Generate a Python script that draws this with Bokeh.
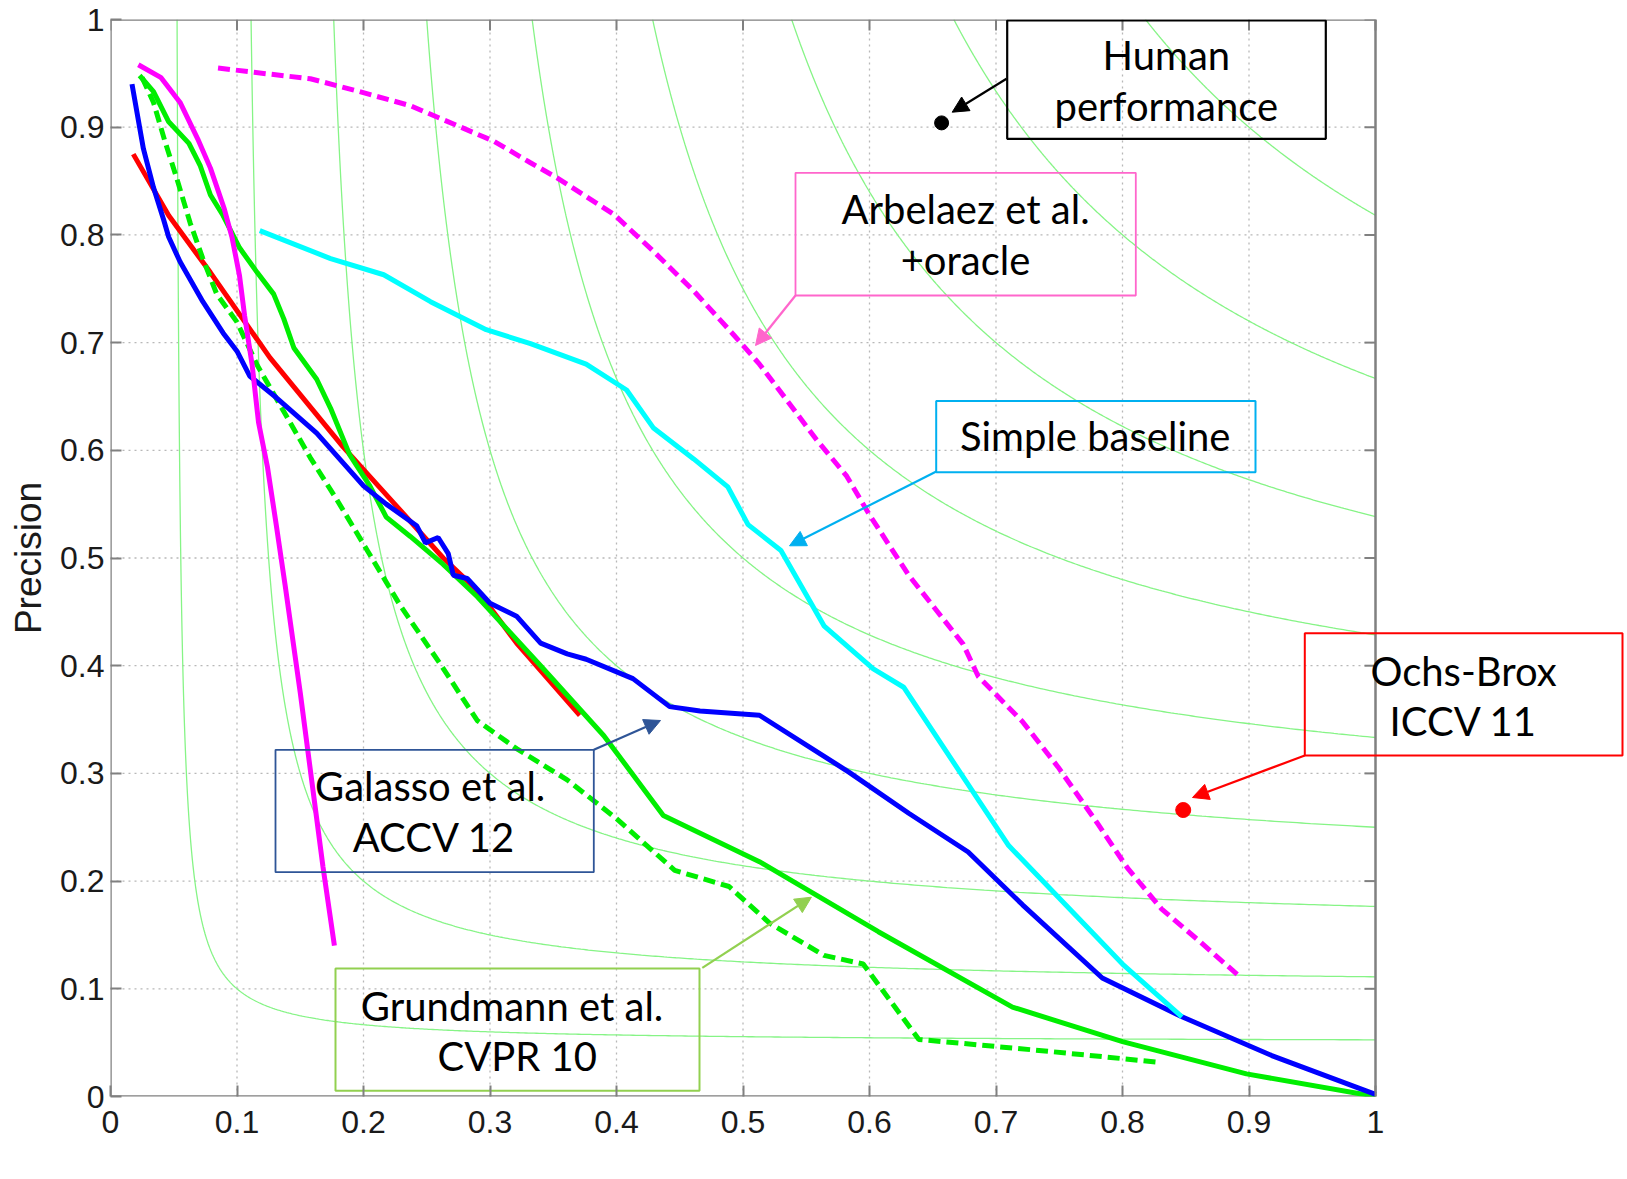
import numpy as np
from bokeh.plotting import figure
from bokeh.models import Range1d, FixedTicker, Label, Arrow, NormalHead
from bokeh.core.properties import value
from bokeh.embed import file_html
from bokeh.resources import INLINE

# ---------------- data ----------------
TICKS = [0, 0.1, 0.2, 0.3, 0.4, 0.5, 0.6, 0.7, 0.8, 0.9, 1]
TICK_LABELS = ["0", "0.1", "0.2", "0.3", "0.4", "0.5", "0.6", "0.7", "0.8", "0.9", "1"]
F_LEVELS = [0.1, 0.2, 0.3, 0.4, 0.5, 0.6, 0.7, 0.8, 0.9]

# Arbelaez et al. (solid magenta)
mag_r = [0.022, 0.040, 0.055, 0.069, 0.079, 0.090, 0.096, 0.102, 0.106, 0.112, 0.117, 0.124,
         0.131, 0.138, 0.150, 0.159, 0.168, 0.177]
mag_p = [0.958, 0.946, 0.923, 0.889, 0.862, 0.824, 0.798, 0.762, 0.725, 0.679, 0.626, 0.585,
         0.531, 0.475, 0.375, 0.294, 0.213, 0.140]

# Arbelaez et al. + oracle (dashed magenta)
orc_r = [0.085, 0.113, 0.158, 0.197, 0.237, 0.263, 0.303, 0.332, 0.353, 0.398, 0.429, 0.461,
         0.492, 0.513, 0.535, 0.558, 0.582, 0.600, 0.631, 0.674, 0.686, 0.721, 0.749, 0.780,
         0.804, 0.831, 0.859, 0.892]
orc_p = [0.955, 0.951, 0.945, 0.933, 0.920, 0.907, 0.887, 0.867, 0.853, 0.819, 0.785, 0.748,
         0.708, 0.680, 0.646, 0.610, 0.576, 0.540, 0.484, 0.420, 0.390, 0.348, 0.306, 0.254,
         0.212, 0.174, 0.146, 0.112]

# red solid
red_r = [0.018, 0.046, 0.079, 0.126, 0.184, 0.224, 0.263, 0.290, 0.321, 0.371]
red_p = [0.875, 0.818, 0.765, 0.686, 0.603, 0.551, 0.500, 0.470, 0.421, 0.354]

# Galasso et al. ACCV 12 (blue)
blue_r = [0.017, 0.026, 0.034, 0.042, 0.046, 0.055, 0.073, 0.089, 0.100, 0.110, 0.131, 0.163,
          0.200, 0.218, 0.242, 0.249, 0.259, 0.267, 0.271, 0.282, 0.300, 0.321, 0.340, 0.361,
          0.376, 0.413, 0.442, 0.466, 0.513, 0.584, 0.631, 0.678, 0.721, 0.784, 0.847, 0.918, 1.0]
blue_p = [0.940, 0.880, 0.844, 0.814, 0.798, 0.775, 0.738, 0.709, 0.692, 0.669, 0.649, 0.616,
          0.567, 0.550, 0.530, 0.514, 0.519, 0.504, 0.484, 0.481, 0.458, 0.446, 0.421, 0.411,
          0.406, 0.388, 0.362, 0.358, 0.354, 0.301, 0.263, 0.227, 0.178, 0.110, 0.074, 0.038, 0.002]

# Grundmann et al. CVPR 10 (solid green)
grn_r = [0.023, 0.034, 0.046, 0.062, 0.071, 0.079, 0.089, 0.102, 0.116, 0.129, 0.137, 0.145,
         0.163, 0.174, 0.189, 0.205, 0.218, 0.237, 0.263, 0.290, 0.340, 0.390, 0.437, 0.513,
         0.607, 0.713, 0.800, 0.898, 1.0]
grn_p = [0.948, 0.933, 0.905, 0.885, 0.864, 0.837, 0.818, 0.788, 0.765, 0.745, 0.722, 0.695,
         0.666, 0.639, 0.596, 0.567, 0.538, 0.520, 0.494, 0.464, 0.400, 0.335, 0.261, 0.218,
         0.153, 0.083, 0.051, 0.021, 0.0]

# dashed green
gdn_r = [0.025, 0.034, 0.043, 0.052, 0.063, 0.073, 0.084, 0.100, 0.116, 0.137, 0.158, 0.179,
         0.203, 0.229, 0.261, 0.290, 0.321, 0.361, 0.400, 0.446, 0.489, 0.521, 0.564, 0.595,
         0.639, 0.741, 0.827]
gdn_p = [0.946, 0.923, 0.887, 0.854, 0.811, 0.778, 0.745, 0.719, 0.679, 0.636, 0.593, 0.554,
         0.507, 0.456, 0.401, 0.349, 0.323, 0.294, 0.258, 0.210, 0.195, 0.161, 0.131, 0.123,
         0.053, 0.042, 0.032]

# Simple baseline (cyan)
cyn_r = [0.118, 0.131, 0.174, 0.216, 0.253, 0.297, 0.332, 0.376, 0.408, 0.429, 0.461, 0.488,
         0.504, 0.530, 0.564, 0.603, 0.627, 0.710, 0.800, 0.847]
cyn_p = [0.804, 0.798, 0.778, 0.763, 0.738, 0.712, 0.699, 0.680, 0.656, 0.621, 0.592, 0.566,
         0.531, 0.507, 0.437, 0.397, 0.380, 0.233, 0.123, 0.074]

human_r, human_p = [0.657], [0.904]
ochs_r, ochs_p = [0.848], [0.266]

# ---------------- figure ----------------
W, H = 1627, 1179
BL, BT, BB = 110, 19, 83
PX_R, PX_P = 1265.0, float(H - BT - BB)
x_end = (W - BL) / PX_R

p = figure(width=W, height=H, x_range=Range1d(0, x_end), y_range=Range1d(0, 1),
           output_backend="svg", toolbar_location=None,
           min_border_left=BL, min_border_right=0, min_border_top=BT, min_border_bottom=BB,
           outline_line_color=None, background_fill_color="white", border_fill_color="white")
p.grid.visible = False

AX_FONT = "Liberation Sans"
for ax in (p.xaxis, p.yaxis):
    ax.ticker = FixedTicker(ticks=TICKS)
    ax.major_label_overrides = {t: s for t, s in zip(TICKS, TICK_LABELS)}
    ax.axis_line_color = None
    ax.major_tick_in = 11
    ax.major_tick_out = 0
    ax.major_tick_line_color = "#808080"
    ax.major_tick_line_width = 2
    ax.minor_tick_line_color = None
    ax.major_label_text_font = AX_FONT
    ax.major_label_text_font_size = "32px"
    ax.major_label_text_color = "#1a1a1a"
p.xaxis.major_label_standoff = 14
p.yaxis.major_label_standoff = 6
p.yaxis.axis_label = "Precision"
p.yaxis.axis_label_text_font = AX_FONT
p.yaxis.axis_label_text_font_size = "37px"
p.yaxis.axis_label_text_font_style = "normal"
p.yaxis.axis_label_text_color = "#1a1a1a"
p.yaxis.axis_label_standoff = 8

# grid (dotted) inside [0,1]
inner = TICKS[1:-1]
p.segment(x0=inner, y0=[0] * len(inner), x1=inner, y1=[1] * len(inner),
          line_color="#b8b8b8", line_width=1.3, line_dash="2 4")
p.segment(x0=[0] * len(inner), y0=inner, x1=[1] * len(inner), y1=inner,
          line_color="#b8b8b8", line_width=1.3, line_dash="2 4")

# iso-F contours
fx, fy = [], []
for F in F_LEVELS:
    rmin = F / (2 - F)
    t = np.linspace(0, 1, 600)
    r = rmin + (1 - rmin) * t ** 3
    fx.append(list(r))
    fy.append(list(F * r / (2 * r - F)))
p.multi_line(xs=fx, ys=fy, line_color="#86f486", line_width=1.3)

# frame and ticks on top / right
p.line(x=[0, 1, 1, 0, 0], y=[0, 0, 1, 1, 0], line_color="#808080", line_width=2.5)
tl_r, tl_p = 11 / PX_R, 11 / PX_P
p.segment(x0=TICKS, y0=[1] * len(TICKS), x1=TICKS, y1=[1 - tl_p] * len(TICKS),
          line_color="#808080", line_width=2)
p.segment(x0=[1] * len(TICKS), y0=TICKS, x1=[1 - tl_r] * len(TICKS), y1=TICKS,
          line_color="#808080", line_width=2)

LW = 5
p.line(red_r, red_p, line_color="#ff0000", line_width=LW)
p.line(gdn_r, gdn_p, line_color="#00ee00", line_width=LW, line_dash="12 6")
p.line(grn_r, grn_p, line_color="#00ee00", line_width=LW)
p.line(blue_r, blue_p, line_color="#0000ff", line_width=LW)
p.line(mag_r, mag_p, line_color="#ff00ff", line_width=LW)
p.line(cyn_r, cyn_p, line_color="#00ffff", line_width=LW)
p.line(orc_r, orc_p, line_color="#ff00ff", line_width=LW, line_dash="12 6")

p.scatter(human_r, human_p, size=14, color="black")
p.scatter(ochs_r, ochs_p, size=15, color="#ff0000")

# ---------------- annotations ----------------
def R(px):
    return (px - BL) / PX_R

def P(py):
    return (H - BB - py) / PX_P

boxes = [
    # left, top, right, bottom (screen px of reference), colour, width
    (1006.7, 20.0, 1325.3, 138.3, "#000000", 2.2),
    (795.0, 172.3, 1135.3, 295.0, "#ff66cc", 1.8),
    (935.7, 400.5, 1255.0, 471.7, "#00b0f0", 2.0),
    (275.0, 749.3, 593.3, 871.7, "#2f5597", 1.8),
    (335.0, 968.1, 699.0, 1090.2, "#92d050", 2.0),
    (1304.3, 632.7, 1622.0, 755.0, "#ff0000", 2.0),
]
for l, t, r, b, c, w in boxes:
    p.quad(left=[R(l)], right=[R(r)], top=[P(t)], bottom=[P(b)],
           fill_color=None, line_color=c, line_width=w)

arrows = [
    (1006.0, 78.3, 951.7, 111.7, "#000000"),
    (795.0, 295.0, 755.0, 345.0, "#ff66cc"),
    (935.8, 470.9, 789.0, 545.3, "#00b0f0"),
    (593.3, 749.3, 660.0, 720.0, "#2f5597"),
    (701.8, 967.3, 810.9, 896.7, "#92d050"),
    (1304.3, 755.0, 1192.0, 797.0, "#ff0000"),
]
for x0, y0, x1, y1, c in arrows:
    p.add_layout(Arrow(end=NormalHead(size=16, fill_color=c, line_color=c, line_width=1),
                       x_start=R(x0), y_start=P(y0), x_end=R(x1), y_end=P(y1),
                       line_color=c, line_width=2.2))

texts = [
    ("Human", 1165.8, 54.0), ("performance", 1165.8, 105.0),
    ("Arbelaez et al.", 965.0, 208.6), ("+oracle", 965.0, 259.4),
    ("Simple baseline", 1094.7, 435.8),
    ("Galasso  et al.", 434.8, 785.5), ("ACCV 12", 433.7, 836.4),
    ("Grundmann  et al.", 516.7, 1005.5), ("CVPR 10", 516.7, 1055.3),
    ("Ochs-Brox", 1463.0, 670.3), ("ICCV 11", 1463.0, 720.1),
]
p.text(x=[R(t[1]) for t in texts], y=[P(t[2]) for t in texts], text=[t[0] for t in texts],
       text_font=value("Lato"), text_font_size="40px", text_align="center",
       text_baseline="middle", text_color="black")

p.add_layout(Label(x=0.5, y=P(1158.0), text="Recall", text_font=AX_FONT,
                   text_font_size="37px", text_align="center", text_baseline="middle",
                   text_color="#1a1a1a"))

open("out.html", "w").write(file_html(p, INLINE))
